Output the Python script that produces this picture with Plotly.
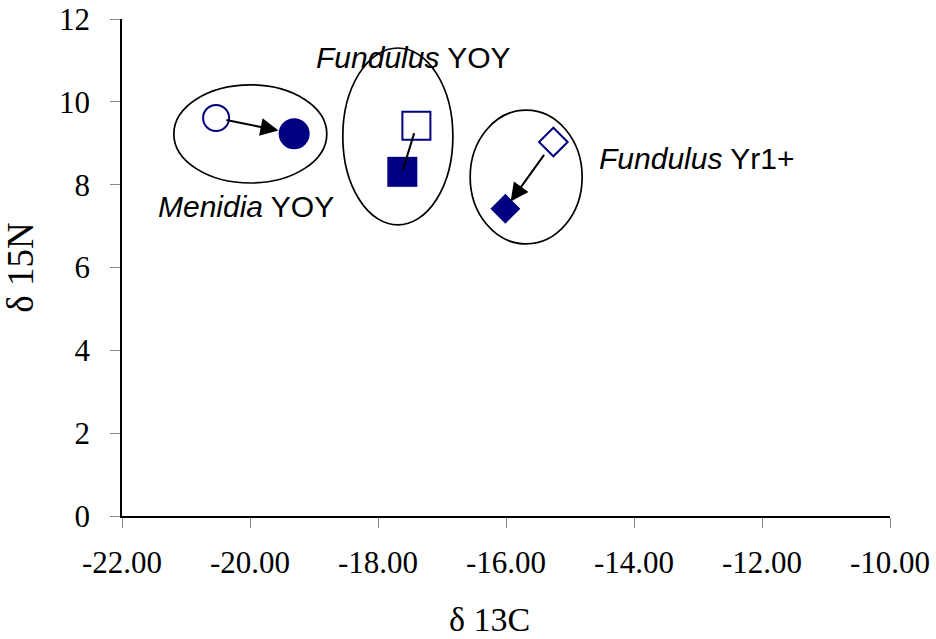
import plotly.graph_objects as go

# Data (delta 13C, delta 15N)
groups = ["Menidia YOY", "Fundulus YOY", "Fundulus Yr1+"]
open_x = [-20.53, -17.40, -15.26]
open_y = [9.61, 9.42, 9.03]
filled_x = [-19.31, -17.62, -16.01]
filled_y = [9.23, 8.31, 7.42]
symbols = ["circle", "square", "diamond"]

# Ellipse extents (x0, x1, y0, y1) in data units
ell_x0 = [-21.19, -18.55, -16.56]
ell_x1 = [-18.80, -16.83, -14.81]
ell_y0 = [8.04, 7.03, 6.57]
ell_y1 = [10.41, 11.30, 9.80]

# Group labels
label_text = ["<i>Menidia</i> YOY", "<i>Fundulus</i> YOY", "<i>Fundulus</i> Yr1+"]
label_x = [-20.07, -17.45, -14.58]
label_y = [7.48, 11.08, 8.64]
label_anchor = ["center", "center", "left"]

x_ticks = [-22, -20, -18, -16, -14, -12, -10]
x_ticktext = ["-22.00", "-20.00", "-18.00", "-16.00", "-14.00", "-12.00", "-10.00"]
y_ticks = [0, 2, 4, 6, 8, 10, 12]
y_ticktext = ["0", "2", "4", "6", "8", "10", "12"]

NAVY = "#000080"
open_sizes = [26, 28, 22]
filled_sizes = [31, 30, 23]

fig = go.Figure()

for i, g in enumerate(groups):
    fig.add_shape(type="circle", xref="x", yref="y",
                  x0=ell_x0[i], x1=ell_x1[i], y0=ell_y0[i], y1=ell_y1[i],
                  line=dict(color="black", width=1.7), fillcolor="rgba(0,0,0,0)",
                  layer="below")

for i, g in enumerate(groups):
    fig.add_trace(go.Scatter(
        x=[open_x[i]], y=[open_y[i]], mode="markers", name=g + " (open)",
        marker=dict(symbol=symbols[i], size=open_sizes[i], color="white",
                    line=dict(color=NAVY, width=2)),
        showlegend=False, hoverinfo="x+y"))
    fig.add_trace(go.Scatter(
        x=[filled_x[i]], y=[filled_y[i]], mode="markers", name=g + " (filled)",
        marker=dict(symbol=symbols[i], size=filled_sizes[i], color=NAVY,
                    line=dict(color=NAVY, width=0)),
        showlegend=False, hoverinfo="x+y"))

arrow_heads = [2, 0, 2]
start_off = [9, 6, 14]
end_off = [16, 2, 9]
for i in range(3):
    fig.add_annotation(x=filled_x[i], y=filled_y[i], ax=open_x[i], ay=open_y[i],
                       xref="x", yref="y", axref="x", ayref="y", text="",
                       showarrow=True, arrowhead=arrow_heads[i], arrowsize=1.8,
                       arrowwidth=2, arrowcolor="black",
                       standoff=end_off[i], startstandoff=start_off[i])

for i in range(3):
    fig.add_annotation(x=label_x[i], y=label_y[i], xref="x", yref="y",
                       text=label_text[i], showarrow=False,
                       xanchor=label_anchor[i], yanchor="middle",
                       font=dict(family="Liberation Sans, Arial", size=30, color="black"))

fig.add_annotation(x=0.479, y=-0.209, xref="paper", yref="paper",
                   text="δ 13C", showarrow=False, yanchor="middle",
                   font=dict(family="Liberation Serif, Times New Roman", size=34, color="black"))

fig.update_layout(
    width=936, height=639,
    margin=dict(l=122, r=46, t=19, b=123),
    paper_bgcolor="white", plot_bgcolor="white",
    font=dict(family="Liberation Serif, Times New Roman", size=31, color="black"),
    showlegend=False,
    xaxis=dict(range=[-22, -10], tickvals=x_ticks, ticktext=x_ticktext,
               showgrid=False, zeroline=False, showline=True, linecolor="black",
               linewidth=1.5, ticks="outside", ticklen=10, tickcolor="#888",
               tickfont=dict(size=31), automargin=False, ticklabelstandoff=8,
               ticklabeloverflow="allow"),
    yaxis=dict(range=[0, 12], tickvals=y_ticks, ticktext=y_ticktext,
               showgrid=False, zeroline=False,
               showline=True, linecolor="black", linewidth=1.5, ticks="outside",
               ticklen=10, tickcolor="#888", tickfont=dict(size=31),
               automargin=False, ticklabelstandoff=14, ticklabeloverflow="allow",
               title=dict(text="δ 15N", font=dict(size=37), standoff=36)),
)

fig.write_html("out.html", config={"displayModeBar": False},
               post_script="document.body.style.margin='0';document.body.style.overflow='hidden';")
